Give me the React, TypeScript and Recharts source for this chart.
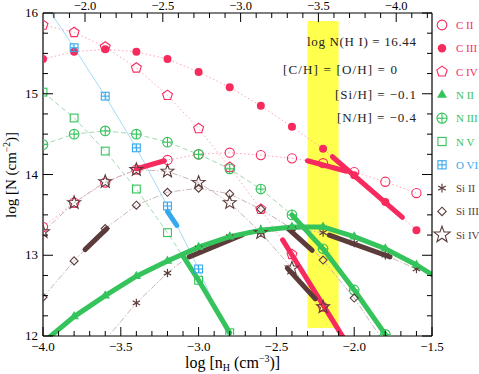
import React from 'react';
import { ComposedChart, Line, XAxis, YAxis, ReferenceArea } from 'recharts';

const W = 479;
const H = 374;
const FONT = '"Liberation Serif", "Times New Roman", serif';

const RED = '#f72a5e';
const GREEN = '#35c35c';
const BLUE = '#36a8ee';
const BROWN = '#5c3b3b';
const YELLOW = '#ffff4d';

// model grid in log n_H
const nH = [-4.0, -3.8, -3.6, -3.4, -3.2, -3.0, -2.8, -2.6, -2.4, -2.2, -2.0, -1.8, -1.6, -1.4];

const cII = [13.35, 13.65, 13.9, 14.06, 14.18, 14.25, 14.27, 14.24, 14.2, 14.14, 14.03, 13.91, 13.77, null];
const cIII = [15.43, 15.52, 15.55, 15.52, 15.43, 15.27, 15.08, 14.85, 14.59, 14.32, 13.99, 13.66, 13.31, null];
const cIV = [15.85, 15.76, 15.58, 15.32, 14.98, 14.57, 14.09, 13.57, 13.01, 12.36, 11.65, null, null, null];
const nII = [11.92, 12.24, 12.5, 12.74, 12.93, 13.1, 13.23, 13.31, 13.35, 13.35, 13.23, 13.08, 12.88, 12.64];
const nIII = [14.37, 14.5, 14.54, 14.5, 14.4, 14.25, 14.07, 13.82, 13.5, 13.08, 12.57, 12.02, 11.4, null];
const nV = [15.02, 14.7, 14.29, 13.82, 13.28, 12.69, 12.04, 11.35, null, null, null, null, null, null];
const oVI = [16.15, 15.57, 14.97, 14.33, 13.61, 12.83, 11.95, null, null, null, null, null, null, null];
const siII = [null, null, 11.95, 12.41, 12.78, 13.09, 13.23, 13.28, 13.33, 13.28, 13.15, 13.0, 12.83, null];
const siIII = [12.48, 12.93, 13.33, 13.62, 13.78, 13.83, 13.76, 13.57, 13.33, 12.94, 12.47, 11.9, null, null];
const siIV = [13.29, 13.65, 13.91, 14.06, 14.04, 13.9, 13.65, 13.28, 12.84, 12.36, 11.8, null, null, null];

// observed ranges drawn as thick segments (x = log n_H, y = log N)
const cObsA_x = [-3.4, -3.22];
const cObsA_y = [14.07, 14.17];
const cObsB_x = [-2.3, -2.05];
const cObsB_y = [14.17, 14.04];
const cObsC_x = [-2.14, -1.69];
const cObsC_y = [14.22, 13.47];
const cObsD_x = [-2.46, -2.06];
const cObsD_y = [13.19, 11.95];
const nVObs_x = [-3.1, -3.0, -2.8];
const nVObs_y = [12.99, 12.69, 12.04];
const nIIIObs_x = [-2.4, -2.2, -2.0, -1.8];
const nIIIObs_y = [13.5, 13.08, 12.57, 12.02];
const oObs_x = [-3.2, -3.14];
const oObs_y = [13.54, 13.37];
const siObsA_x = [-3.73, -3.59];
const siObsA_y = [13.07, 13.33];
const siObsB_x = [-3.06, -2.72];
const siObsB_y = [12.98, 13.25];
const siObsC_x = [-2.43, -2.27];
const siObsC_y = [13.34, 13.06];
const siObsD_x = [-2.43, -2.25];
const siObsD_y = [12.84, 12.46];
const siObsE_x = [-2.16, -1.77];
const siObsE_y = [13.25, 12.98];

// axis ticks
const bottomTicks = [-4.0, -3.9, -3.8, -3.7, -3.6, -3.5, -3.4, -3.3, -3.2, -3.1, -3.0, -2.9, -2.8, -2.7, -2.6, -2.5, -2.4, -2.3, -2.2, -2.1, -2.0, -1.9, -1.8, -1.7, -1.6, -1.5];
const topTicks = [-1.8, -1.9, -2.0, -2.1, -2.2, -2.3, -2.4, -2.5, -2.6, -2.7, -2.8, -2.9, -3.0, -3.1, -3.2, -3.3, -3.4, -3.5, -3.6, -3.7, -3.8, -3.9, -4.0, -4.1, -4.2];
const yTicks = [12, 12.25, 12.5, 12.75, 13, 13.25, 13.5, 13.75, 14, 14.25, 14.5, 14.75, 15, 15.25, 15.5, 15.75, 16];

const legendItems = [
  { name: 'C II', kind: 'circle', color: RED },
  { name: 'C III', kind: 'dot', color: RED },
  { name: 'C IV', kind: 'pentagon', color: RED },
  { name: 'N II', kind: 'triangle', color: GREEN },
  { name: 'N III', kind: 'cplus', color: GREEN },
  { name: 'N V', kind: 'square', color: GREEN },
  { name: 'O VI', kind: 'bplus', color: BLUE },
  { name: 'Si II', kind: 'asterisk', color: BROWN },
  { name: 'Si III', kind: 'diamond', color: BROWN },
  { name: 'Si IV', kind: 'star', color: BROWN },
];

const toPts = (xs: number[], ys: (number | null)[]) => xs.map((x, i) => ({ x, y: ys[i] }));

const fmt = (v: number) => (v < 0 ? '\u2212' : '') + Math.abs(v).toFixed(1);
const isHalf = (v: number) => Math.abs(v * 2 - Math.round(v * 2)) < 1e-6;
const isInt = (v: number) => Math.abs(v - Math.round(v)) < 1e-6;

function poly(x: number, y: number, n: number, r: number, r2?: number) {
  const pts: string[] = [];
  const count = r2 ? n * 2 : n;
  for (let i = 0; i < count; i++) {
    const a = -Math.PI / 2 + (i * 2 * Math.PI) / count;
    const rr = r2 && i % 2 === 1 ? r2 : r;
    pts.push(`${(x + rr * Math.cos(a)).toFixed(2)},${(y + rr * Math.sin(a)).toFixed(2)}`);
  }
  return pts.join(' ');
}

function Marker({ kind, x, y, color, s = 1 }: { kind: string; x: number; y: number; color: string; s?: number }) {
  const sw = 1.1;
  switch (kind) {
    case 'circle':
      return <circle cx={x} cy={y} r={4.6 * s} fill="none" stroke={color} strokeWidth={sw} />;
    case 'dot':
      return <circle cx={x} cy={y} r={4 * s} fill={color} />;
    case 'pentagon':
      return <polygon points={poly(x, y, 5, 5.2 * s)} fill="none" stroke={color} strokeWidth={sw} />;
    case 'triangle':
      return <polygon points={poly(x, y, 3, 5.5 * s)} fill={color} />;
    case 'cplus': {
      const r = 4.8 * s;
      return (
        <g fill="none" stroke={color} strokeWidth={sw}>
          <circle cx={x} cy={y} r={r} />
          <line x1={x - r} x2={x + r} y1={y} y2={y} />
          <line x1={x} x2={x} y1={y - r} y2={y + r} />
        </g>
      );
    }
    case 'square': {
      const h = 3.9 * s;
      return <rect x={x - h} y={y - h} width={2 * h} height={2 * h} fill="none" stroke={color} strokeWidth={sw} />;
    }
    case 'bplus': {
      const h = 3.9 * s;
      return (
        <g fill="none" stroke={color} strokeWidth={sw}>
          <rect x={x - h} y={y - h} width={2 * h} height={2 * h} />
          <line x1={x - h} x2={x + h} y1={y} y2={y} />
          <line x1={x} x2={x} y1={y - h} y2={y + h} />
        </g>
      );
    }
    case 'asterisk': {
      const r = 4.2 * s;
      return (
        <g stroke={color} strokeWidth={1.2}>
          {[90, 30, 150].map((d) => {
            const a = (d * Math.PI) / 180;
            return <line key={d} x1={x - r * Math.cos(a)} x2={x + r * Math.cos(a)} y1={y - r * Math.sin(a)} y2={y + r * Math.sin(a)} />;
          })}
        </g>
      );
    }
    case 'diamond': {
      const r = 4 * s;
      return <polygon points={`${x},${y - r} ${x + r},${y} ${x},${y + r} ${x - r},${y}`} fill="none" stroke={color} strokeWidth={sw} />;
    }
    case 'star':
      return <polygon points={poly(x, y, 5, 6.8 * s, 2.8 * s)} fill="none" stroke={color} strokeWidth={sw} />;
    default:
      return null;
  }
}

const dotFor = (kind: string, color: string) => (p: any) => {
  const key = `${kind}-${p.index}`;
  if (p.value == null || p.cx == null || p.cy == null || p.value < 11.96 || p.value > 16.04 || p.payload.x > -1.5) {
    return <g key={key} />;
  }
  return <Marker key={key} kind={kind} x={p.cx} y={p.cy} color={color} />;
};

const BottomTick = (p: any) => {
  const v = p.payload.value;
  const major = isHalf(v);
  return (
    <g>
      <line x1={p.x} x2={p.x} y1={p.y} y2={p.y - (major ? 9 : 5)} stroke="#000" strokeWidth={1} />
      {major && (
        <text x={p.x} y={p.y + 15} textAnchor="middle" fontSize={13} fontFamily={FONT} fill="#000">
          {fmt(v)}
        </text>
      )}
    </g>
  );
};

const TopTick = (p: any) => {
  const v = p.payload.value;
  const major = isHalf(v);
  return (
    <g>
      <line x1={p.x} x2={p.x} y1={p.y} y2={p.y + (major ? 9 : 5)} stroke="#000" strokeWidth={1} />
      {major && (
        <text x={p.x} y={p.y - 3} textAnchor="middle" fontSize={12.5} fontFamily={FONT} fill="#000">
          {fmt(v)}
        </text>
      )}
    </g>
  );
};

const LeftTick = (p: any) => {
  const v = p.payload.value;
  const major = isInt(v);
  return (
    <g>
      <line x1={p.x} x2={p.x + (major ? 10 : 5)} y1={p.y} y2={p.y} stroke="#000" strokeWidth={1} />
      {major && (
        <text x={p.x - 5} y={p.y + 4} textAnchor="end" fontSize={13} fontFamily={FONT} fill="#000">
          {String(v)}
        </text>
      )}
    </g>
  );
};

const RightTick = (p: any) => {
  const v = p.payload.value;
  const major = isInt(v);
  return <line x1={p.x} x2={p.x - (major ? 10 : 5)} y1={p.y} y2={p.y} stroke="#000" strokeWidth={1} />;
};

const thin = (stroke: string, dash?: string) => ({
  stroke,
  strokeWidth: 1,
  strokeDasharray: dash,
});

export default function App() {
  const model = [
    { d: cII, kind: 'circle', color: RED, line: thin('#ffa3ba', '1.5 2.5') },
    { d: cIII, kind: 'dot', color: RED, line: thin('#ffa3ba', '1.5 2.5') },
    { d: cIV, kind: 'pentagon', color: RED, line: thin('#ffa3ba', '1.5 2.5') },
    { d: nIII, kind: 'cplus', color: GREEN, line: thin('#9edcb0', '5 3') },
    { d: nV, kind: 'square', color: GREEN, line: thin('#9edcb0', '5 3') },
    { d: oVI, kind: 'bplus', color: BLUE, line: thin('#a6dbf7') },
    { d: siIII, kind: 'diamond', color: BROWN, line: thin('#cbb5b5', '6 2 1.5 2') },
    { d: siIV, kind: 'star', color: BROWN, line: thin('#cbb5b5', '6 2 1.5 2') },
    { d: siII, kind: 'asterisk', color: BROWN, line: thin('#cbb5b5', '6 2 1.5 2') },
  ];

  const thick = [
    { xs: cObsA_x, ys: cObsA_y, color: RED },
    { xs: cObsB_x, ys: cObsB_y, color: RED },
    { xs: cObsC_x, ys: cObsC_y, color: RED },
    { xs: cObsD_x, ys: cObsD_y, color: RED },
    { xs: nVObs_x, ys: nVObs_y, color: GREEN },
    { xs: nIIIObs_x, ys: nIIIObs_y, color: GREEN },
    { xs: oObs_x, ys: oObs_y, color: BLUE },
    { xs: siObsA_x, ys: siObsA_y, color: BROWN },
    { xs: siObsB_x, ys: siObsB_y, color: BROWN },
    { xs: siObsC_x, ys: siObsC_y, color: BROWN },
    { xs: siObsD_x, ys: siObsD_y, color: BROWN },
    { xs: siObsE_x, ys: siObsE_y, color: BROWN },
  ];

  return (
    <div style={{ position: 'absolute', left: 0, top: 0, width: W, height: H, background: '#fff' }}>
      <ComposedChart width={W} height={H} margin={{ top: 0, right: 0, bottom: 0, left: 0 }}>
        <XAxis
          xAxisId="b"
          dataKey="x"
          type="number"
          orientation="bottom"
          domain={[-4, -1.5]}
          allowDataOverflow
          ticks={bottomTicks}
          interval={0}
          tick={(p: any) => <BottomTick {...p} />}
          tickLine={false}
          tickSize={0}
          tickMargin={0}
          height={38}
          axisLine={{ stroke: '#000', strokeWidth: 1.2 }}
        />
        {/* top axis: log U, the same scale shifted and reversed */}
        <XAxis
          xAxisId="t"
          dataKey="x"
          type="number"
          orientation="top"
          domain={[-4.23, -1.73]}
          reversed
          allowDataOverflow
          ticks={topTicks}
          interval={0}
          tick={(p: any) => <TopTick {...p} />}
          tickLine={false}
          tickSize={0}
          tickMargin={0}
          height={13}
          axisLine={{ stroke: '#000', strokeWidth: 1.2 }}
        />
        <YAxis
          yAxisId="l"
          type="number"
          domain={[12, 16]}
          allowDataOverflow
          ticks={yTicks}
          interval={0}
          tick={(p: any) => <LeftTick {...p} />}
          tickLine={false}
          tickSize={0}
          tickMargin={0}
          width={43}
          axisLine={{ stroke: '#000', strokeWidth: 1.2 }}
        />
        <YAxis
          yAxisId="r"
          orientation="right"
          type="number"
          domain={[12, 16]}
          allowDataOverflow
          ticks={yTicks}
          interval={0}
          tick={(p: any) => <RightTick {...p} />}
          tickLine={false}
          tickSize={0}
          tickMargin={0}
          width={47}
          axisLine={{ stroke: '#000', strokeWidth: 1.2 }}
        />
        <ReferenceArea
          xAxisId="b"
          yAxisId="l"
          x1={-2.3}
          x2={-2.1}
          y1={12.1}
          y2={15.9}
          fill={YELLOW}
          fillOpacity={1}
          stroke="none"
        />
        {/* invisible series so the top axis gets a scale */}
        <Line
          xAxisId="t"
          yAxisId="r"
          data={toPts(topTicks, topTicks.map(() => null))}
          dataKey="y"
          stroke="none"
          dot={false}
          activeDot={false}
          isAnimationActive={false}
        />
        {model.map((m, i) => (
          <Line
            key={`m${i}`}
            xAxisId="b"
            yAxisId="l"
            data={toPts(nH, m.d)}
            dataKey="y"
            type="linear"
            {...m.line}
            dot={dotFor(m.kind, m.color)}
            activeDot={false}
            isAnimationActive={false}
          />
        ))}
        {thick.map((t, i) => (
          <Line
            key={`t${i}`}
            xAxisId="b"
            yAxisId="l"
            data={toPts(t.xs, t.ys)}
            dataKey="y"
            type="linear"
            stroke={t.color}
            strokeWidth={5}
            strokeLinecap="round"
            dot={false}
            activeDot={false}
            isAnimationActive={false}
          />
        ))}
        <Line
          xAxisId="b"
          yAxisId="l"
          data={toPts(nH, nII)}
          dataKey="y"
          type="linear"
          stroke={GREEN}
          strokeWidth={5}
          dot={dotFor('triangle', GREEN)}
          activeDot={false}
          isAnimationActive={false}
        />
      </ComposedChart>
      <svg
        width={W}
        height={H}
        style={{ position: 'absolute', left: 0, top: 0, pointerEvents: 'none' }}
        fontFamily={FONT}
      >
        <g fontSize={13} fill="#222">
          <text x={307} y={46} textLength={109} lengthAdjust="spacing">log N(H I) = 16.44</text>
          <text x={283} y={74} textLength={114} lengthAdjust="spacing">[C/H] = [O/H] = 0</text>
          <text x={335} y={99} textLength={81} lengthAdjust="spacing">[Si/H] = {'\u2212'}0.1</text>
          <text x={337} y={122} textLength={79} lengthAdjust="spacing">[N/H] = {'\u2212'}0.4</text>
        </g>
        <text x={185} y={368} fontSize={16} fill="#000">
          log [n<tspan fontSize={10} dy={3}>H</tspan>
          <tspan dy={-3}> (cm</tspan>
          <tspan fontSize={10} dy={-6}>{'\u2212'}3</tspan>
          <tspan dy={6}>)]</tspan>
        </text>
        <text x={0} y={0} fontSize={15} fill="#000" textAnchor="middle" transform="translate(16,175) rotate(-90)">
          log [N (cm<tspan fontSize={9.5} dy={-6}>{'\u2212'}2</tspan>
          <tspan dy={6}>)]</tspan>
        </text>
        {legendItems.map((it, i) => {
          const y = 25 + i * 23.3;
          return (
            <g key={it.name}>
              <Marker kind={it.kind} x={442} y={y} color={it.color} s={it.kind === 'star' ? 1.25 : 1.05} />
              <text x={456} y={y + 4} fontSize={11} fill={it.color}>
                {it.name}
              </text>
            </g>
          );
        })}
      </svg>
    </div>
  );
}
